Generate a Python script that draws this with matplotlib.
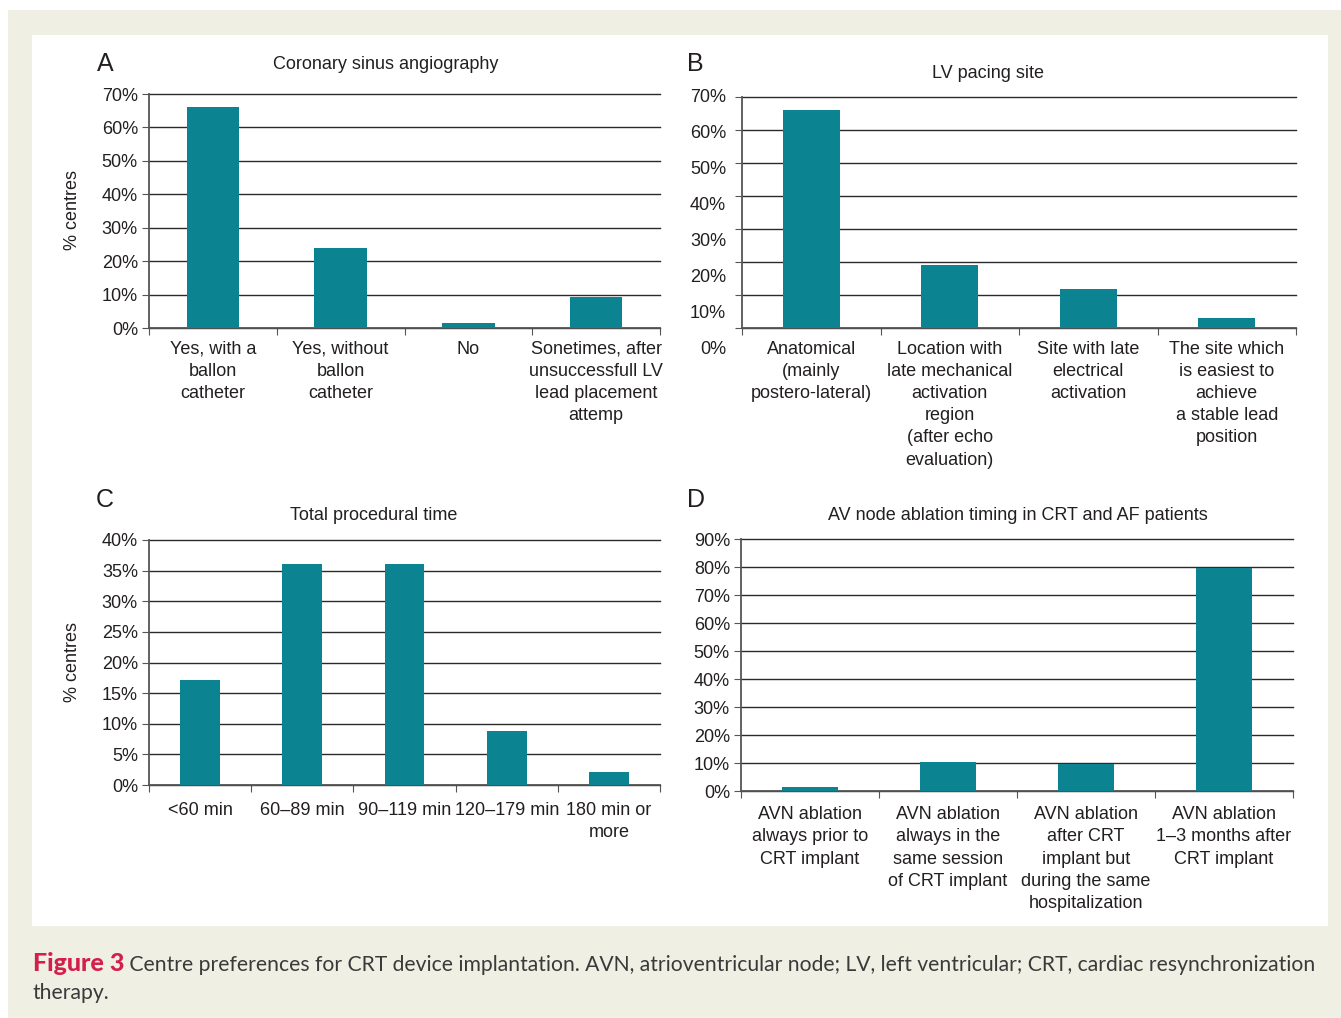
import matplotlib.pyplot as plt
from matplotlib.patches import Rectangle

plt.rcParams['font.family'] = ['Liberation Sans', 'DejaVu Sans']
plt.rcParams['font.size'] = 13

W, H = 1341, 1018
TEAL = '#0b8391'
TEXT = '#231f20'
CREAM = '#efefe4'

a_labels = ['Yes, with a\nballon\ncatheter', 'Yes, without\nballon\ncatheter', 'No',
            'Sonetimes, after\nunsuccessfull LV\nlead placement\nattemp']
a_values = [66, 24, 1.5, 9.3]

b_labels = ['Anatomical\n(mainly\npostero-lateral)',
            'Location with\nlate mechanical\nactivation\nregion\n(after echo\nevaluation)',
            'Site with late\nelectrical\nactivation',
            'The site which\nis easiest to\nachieve\na stable lead\nposition']
b_values = [66, 19, 11.8, 3]

c_labels = ['<60 min', '60–89 min', '90–119 min', '120–179 min', '180 min or\nmore']
c_values = [17.1, 36.1, 36.1, 8.8, 2.1]

d_labels = ['AVN ablation\nalways prior to\nCRT implant',
            'AVN ablation\nalways in the\nsame session\nof CRT implant',
            'AVN ablation\nafter CRT\nimplant but\nduring the same\nhospitalization',
            'AVN ablation\n1–3 months after\nCRT implant']
d_values = [1.4, 10.3, 9.6, 79.8]


def px_axes(fig, l, t, r, b):
    return fig.add_axes([l / W, 1 - b / H, (r - l) / W, (b - t) / H])


def bar_panel(ax, labels, values, ymax, step, width, pad=9):
    n = len(values)
    ax.bar(range(n), values, width=width, color=TEAL, zorder=3)
    ax.set_xlim(-0.5, n - 0.5)
    ax.set_ylim(0, ymax)
    ax.set_yticks(range(0, ymax + 1, step))
    ax.set_yticklabels([f'{v}%' for v in range(0, ymax + 1, step)])
    ax.set_xticks([i - 0.5 for i in range(n + 1)])
    ax.set_xticklabels([])
    ax.set_xticks(range(n), minor=True)
    ax.set_xticklabels(labels, minor=True, linespacing=1.4)
    ax.tick_params(axis='x', which='major', length=5, direction='out', color='#555555')
    ax.tick_params(axis='x', which='minor', length=0, pad=pad, labelcolor=TEXT)
    ax.tick_params(axis='y', length=5, direction='out', color='#555555', pad=3,
                   labelcolor=TEXT)
    ax.yaxis.grid(True, color='#2a2a2a', lw=1.0, zorder=1)
    ax.set_axisbelow(True)
    for s in ['top', 'right']:
        ax.spines[s].set_visible(False)
    for s in ['left', 'bottom']:
        ax.spines[s].set_color('#555555')
        ax.spines[s].set_linewidth(1.3)
    for line in ax.get_ygridlines():
        line.set_clip_on(False)


fig = plt.figure(figsize=(W / 100, H / 100), dpi=100)

bg = fig.add_axes([0, 0, 1, 1], zorder=-1)
bg.set_xlim(0, W)
bg.set_ylim(H, 0)
bg.axis('off')
bg.add_patch(Rectangle((8, 10), W - 8, H - 10, color=CREAM, lw=0))
bg.add_patch(Rectangle((32, 35), 1296, 891, color='white', lw=0))

ax_a = px_axes(fig, 149, 94, 660, 328)
bar_panel(ax_a, a_labels, a_values, 70, 10, 0.41, pad=9)

ax_b = px_axes(fig, 742, 97, 1296, 328)
bar_panel(ax_b, b_labels, b_values, 70, 10, 0.41, pad=9)
# panel B: the printed tick labels sit off the gridlines
ax_b.set_yticklabels([])
for v in range(0, 80, 10):
    ax_b.text(-16 / 554, 70 - (70 - v) * 36.1 / 33, f'{v}%', transform=ax_b.get_yaxis_transform(),
              ha='right', va='center', color=TEXT)

ax_c = px_axes(fig, 149, 540, 660, 785)
bar_panel(ax_c, c_labels, c_values, 40, 5, 0.39, pad=12)

ax_d = px_axes(fig, 741, 539, 1293, 791)
bar_panel(ax_d, d_labels, d_values, 90, 10, 0.40, pad=11)

# panel letters and titles
for letter, x, y in [('A', 105, 64), ('B', 695, 64), ('C', 105, 500), ('D', 696, 500)]:
    bg.text(x, y, letter, fontsize=18, ha='center', va='center', color=TEXT)
for title, x, y in [('Coronary sinus angiography', 386, 64), ('LV pacing site', 988, 73),
                    ('Total procedural time', 374, 515),
                    ('AV node ablation timing in CRT and AF patients', 1018, 515)]:
    bg.text(x, y, title, ha='center', va='center', color=TEXT)
for y in [210, 662]:
    bg.text(73, y, '% centres', rotation=90, ha='center', va='center', color=TEXT)

# caption
cap = bg.text(33, 971, 'Figure 3', fontsize=18, fontweight='black', color='#d31f4b',
              family='Lato', va='baseline')
bg.annotate(' Centre preferences for CRT device implantation. AVN, atrioventricular node; '
            'LV, left ventricular; CRT, cardiac resynchronization',
            xy=(1, 0), xycoords=cap, va='bottom', fontsize=15.2, family='Lato', color='#3a3a3a')
bg.text(33, 993, 'therapy.', fontsize=15.2, family='Lato', color='#3a3a3a', va='center')

fig.savefig('out.png', dpi=100)
